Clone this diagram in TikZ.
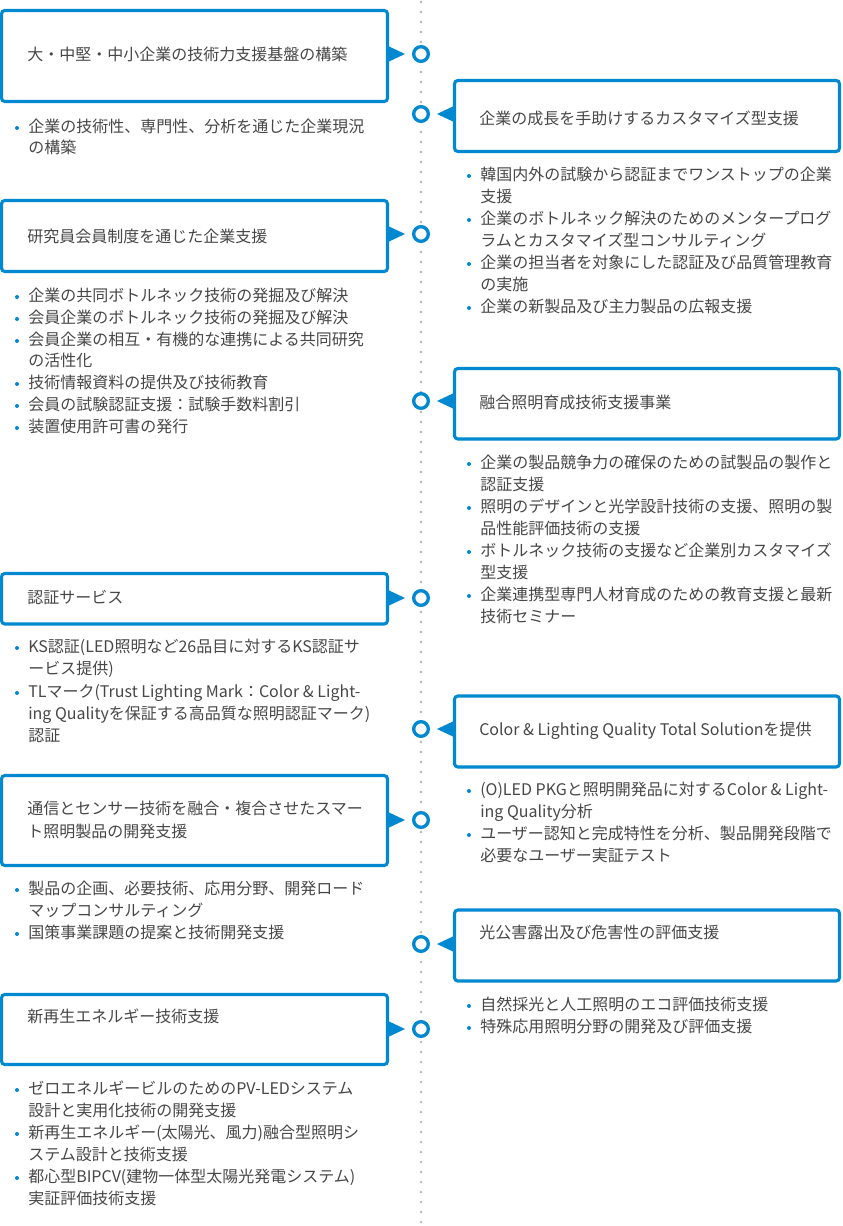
\documentclass[tikz,border=0pt]{standalone}
\usepackage{fontspec}
\setmainfont{Noto Sans CJK JP}
\usetikzlibrary{fit}
\definecolor{acc}{HTML}{0088D1}
\definecolor{ink}{HTML}{474747}
\definecolor{dotg}{HTML}{B4B4B4}
\tikzset{
  txt/.style={anchor=west, inner sep=0pt, text height=0.88em, text depth=0.12em,
    font=\fontsize{12pt}{16.5pt}\selectfont, text=ink},
  bul/.style={circle, fill=acc, inner sep=0pt, minimum size=3pt},
  boxst/.style={draw=acc, line width=2.3pt, rounded corners=2.5pt, inner sep=0pt, fill=white},
  dotc/.style={circle, draw=acc, line width=2.5pt, fill=white, minimum size=11pt, inner sep=0pt},
  timeline/.style={dotg, line width=1.9pt, line cap=round, dash pattern=on 0pt off 7.5pt}
}
\newcommand\tl[4]{\node[txt] (#1) at (#2,#3) {#4};}
\newcommand\bl[3]{\node[bul] (#1) at (#2,#3) {};}
\newcommand\lbox[3]{\node[boxst, fit={(1.5,#2) (387.5,#3)}] (#1) {};}
\newcommand\rbox[3]{\node[boxst, fit={(454.5,#2) (839.5,#3)}] (#1) {};}
\newcommand\lptr[2]{\fill[acc] (#1.east |- #2) ++(-1,-8) -- ++(17,8) -- ++(-17,8) -- cycle;}
\newcommand\rptr[2]{\fill[acc] (#1.west |- #2) ++(1,-8) -- ++(-17,8) -- ++(17,8) -- cycle;}
\begin{document}
\begin{tikzpicture}[x=0.75pt, y=-0.75pt]
\useasboundingbox (0,0) rectangle (842,1226);
\fill[white] (0,0) rectangle (842,1226);
% timeline
\coordinate (T0) at (421,2);
\coordinate (T1) at (421,1226);
\draw[timeline] (T0) -- (T1);
% boxes
\lbox{B1}{10.5}{101.5}
\rbox{R1}{80.5}{151.5}
\lbox{B2}{200.5}{271.5}
\rbox{R2}{368.5}{439}
\lbox{B3}{573.5}{624}
\rbox{R3}{696}{767}
\lbox{B4}{775.5}{865.5}
\rbox{R4}{910}{981}
\lbox{B5}{994.5}{1064.5}
% circles
\node[dotc] (C1) at (421,54) {};
\node[dotc] (D1) at (421,114) {};
\node[dotc] (C2) at (421,234) {};
\node[dotc] (D2) at (421,401) {};
\node[dotc] (C3) at (421,598) {};
\node[dotc] (D3) at (421,729) {};
\node[dotc] (C4) at (421,820) {};
\node[dotc] (D4) at (421,944) {};
\node[dotc] (C5) at (421,1029) {};
% pointers
\lptr{B1}{C1}
\rptr{R1}{D1}
\lptr{B2}{C2}
\rptr{R2}{D2}
\lptr{B3}{C3}
\rptr{R3}{D3}
\lptr{B4}{C4}
\rptr{R4}{D4}
\lptr{B5}{C5}
% box titles
\tl{h1}{27}{55}{大・中堅・中小企業の技術力支援基盤の構築}
\tl{g1}{479}{119}{企業の成長を手助けするカスタマイズ型支援}
\tl{h2}{27}{237}{研究員会員制度を通じた企業支援}
\tl{g2}{479}{403}{融合照明育成技術支援事業}
\tl{h3}{27}{598}{認証サービス}
\tl{g3}{479}{730}{Color \& Lighting Quality Total Solutionを提供}
\tl{h4a}{27}{809}{通信とセンサー技術を融合・複合させたスマー}
\tl{h4b}{27}{832}{ト照明製品の開発支援}
\tl{g4}{479}{933}{光公害露出及び危害性の評価支援}
\tl{h5}{27}{1017}{新再生エネルギー技術支援}
% left lists
\bl{p11}{17}{128}
\tl{l11}{28}{127}{企業の技術性、専門性、分析を通じた企業現況}
\tl{l12}{28}{148}{の構築}
\bl{p21}{17}{297}\tl{l21}{28}{296}{企業の共同ボトルネック技術の発掘及び解決}
\bl{p22}{17}{319}\tl{l22}{28}{318}{会員企業のボトルネック技術の発掘及び解決}
\bl{p23}{17}{341}\tl{l23}{28}{340}{会員企業の相互・有機的な連携による共同研究}
\tl{l24}{28}{361}{の活性化}
\bl{p25}{17}{384}\tl{l25}{28}{383}{技術情報資料の提供及び技術教育}
\bl{p26}{17}{406}\tl{l26}{28}{405}{会員の試験認証支援：試験手数料割引}
\bl{p27}{17}{428}\tl{l27}{28}{427}{装置使用許可書の発行}
\bl{p31}{17}{648}\tl{l31}{28}{647}{KS認証(LED照明など26品目に対するKS認証サ}
\tl{l32}{28}{669}{ービス提供)}
\bl{p33}{17}{693}\tl{l33}{28}{692}{TLマーク(Trust Lighting Mark：Color \& Light-}
\tl{l34}{28}{714}{ing Qualityを保証する高品質な照明認証マーク)}
\tl{l35}{28}{736}{認証}
\bl{p41}{17}{890}\tl{l41}{28}{889}{製品の企画、必要技術、応用分野、開発ロード}
\tl{l42}{28}{911}{マップコンサルティング}
\bl{p43}{17}{934}\tl{l43}{28}{933}{国策事業課題の提案と技術開発支援}
\bl{p51}{17}{1090}\tl{l51}{28}{1089}{ゼロエネルギービルのためのPV-LEDシステム}
\tl{l52}{28}{1111}{設計と実用化技術の開発支援}
\bl{p53}{17}{1134}\tl{l53}{28}{1133}{新再生エネルギー(太陽光、風力)融合型照明シ}
\tl{l54}{28}{1155}{ステム設計と技術支援}
\bl{p55}{17}{1178}\tl{l55}{28}{1177}{都心型BIPCV(建物一体型太陽光発電システム)}
\tl{l56}{28}{1199}{実証評価技術支援}
% right lists
\bl{q11}{469}{176}\tl{r11}{480}{175}{韓国内外の試験から認証までワンストップの企業}
\tl{r12}{480}{197}{支援}
\bl{q13}{469}{220}\tl{r13}{480}{219}{企業のボトルネック解決のためのメンタープログ}
\tl{r14}{480}{241}{ラムとカスタマイズ型コンサルティング}
\bl{q15}{469}{264}\tl{r15}{480}{263}{企業の担当者を対象にした認証及び品質管理教育}
\tl{r16}{480}{285}{の実施}
\bl{q17}{469}{308}\tl{r17}{480}{307}{企業の新製品及び主力製品の広報支援}
\bl{q21}{469}{464}\tl{r21}{480}{463}{企業の製品競争力の確保のための試製品の製作と}
\tl{r22}{480}{485}{認証支援}
\bl{q23}{469}{508}\tl{r23}{480}{507}{照明のデザインと光学設計技術の支援、照明の製}
\tl{r24}{480}{529}{品性能評価技術の支援}
\bl{q25}{469}{552}\tl{r25}{480}{551}{ボトルネック技術の支援など企業別カスタマイズ}
\tl{r26}{480}{573}{型支援}
\bl{q27}{469}{596}\tl{r27}{480}{595}{企業連携型専門人材育成のための教育支援と最新}
\tl{r28}{480}{617}{技術セミナー}
\bl{q31}{469}{791}\tl{r31}{480}{790}{(O)LED PKGと照明開発品に対するColor \& Light-}
\tl{r32}{480}{812}{ing Quality分析}
\bl{q33}{469}{835}\tl{r33}{480}{834}{ユーザー認知と完成特性を分析、製品開発段階で}
\tl{r34}{480}{856}{必要なユーザー実証テスト}
\bl{q41}{469}{1006}\tl{r41}{480}{1005}{自然採光と人工照明のエコ評価技術支援}
\bl{q42}{469}{1028}\tl{r42}{480}{1027}{特殊応用照明分野の開発及び評価支援}
\end{tikzpicture}
\end{document}
